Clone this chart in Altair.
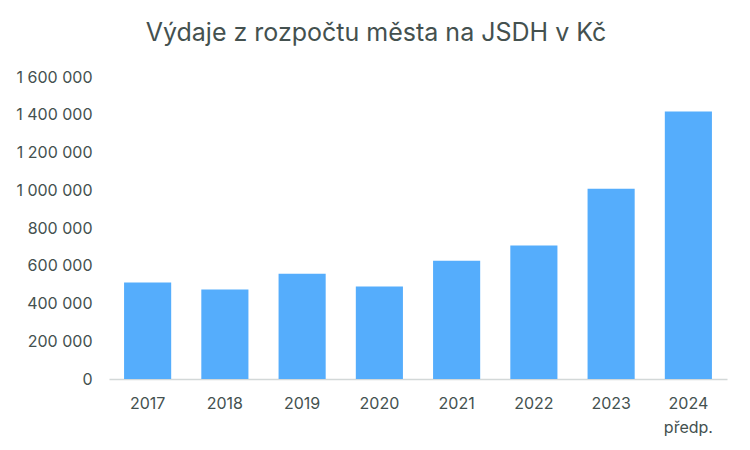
import altair as alt
import pandas as pd

years = ["2017", "2018", "2019", "2020", "2021", "2022", "2023", "2024 předp."]
values = [511000, 474000, 558000, 490000, 627000, 707000, 1008000, 1417000]
title_text = "Výdaje z rozpočtu města na JSDH v Kč"

df = pd.DataFrame({"rok": years, "vydaje": values})

TEXT = "#44514f"
FONT = "Inter"

chart = (
    alt.Chart(df)
    .mark_bar(color="#55adfc")
    .encode(
        x=alt.X(
            "rok:N",
            sort=years,
            title=None,
            scale=alt.Scale(paddingInner=0.39, paddingOuter=0.195),
            axis=alt.Axis(
                labelAngle=0,
                labelExpr="split(datum.label, ' ')",
                labelLineHeight=24,
                labelPadding=16,
                labelFontSize=16,
                labelColor=TEXT,
                labelFont=FONT,
                ticks=False,
                domainColor="#d3d8d8",
                domainWidth=1.5,
            ),
        ),
        y=alt.Y(
            "vydaje:Q",
            title=None,
            scale=alt.Scale(domain=[0, 1600000]),
            axis=alt.Axis(
                values=[0, 200000, 400000, 600000, 800000, 1000000, 1200000, 1400000, 1600000],
                labelExpr="replace(replace(format(datum.value, ','), ',', ' '), ',', ' ')",
                labelFontSize=16,
                labelColor=TEXT,
                labelFont=FONT,
                labelPadding=17,
                ticks=False,
                domain=False,
                grid=False,
            ),
        ),
    )
    .properties(
        width=618,
        height=302,
        padding={"left": 101, "top": 69, "right": 15, "bottom": 63},
        autosize=alt.AutoSizeParams(type="none"),
        title=alt.TitleParams(
            title_text,
            fontSize=25,
            font=FONT,
            fontWeight="normal",
            color=TEXT,
            anchor="middle",
            dx=-42,
            offset=23,
        ),
    )
    .configure_view(stroke=None)
)

chart.save("out.html", embed_options={"renderer": "svg", "actions": False})
